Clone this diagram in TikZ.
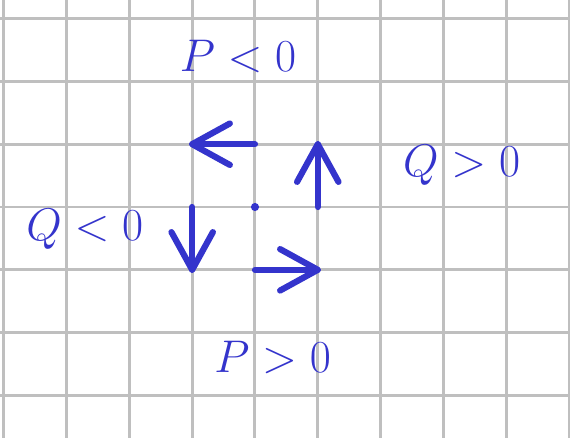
\documentclass[tikz,border=0pt]{standalone}
\begin{document}
\begin{tikzpicture}[x=1cm,y=1cm,
  gridline/.style={draw=gray!50, line width=1.35pt},
  vec/.style={draw=bluec, line width=2.8pt, line cap=round, line join=round},
  lab/.style={text=bluec, anchor=base, inner sep=0pt, font=\fontsize{20}{24}\selectfont}]
\definecolor{bluec}{HTML}{3434CC}
\useasboundingbox (-4.06,-3.678) rectangle (5.016,3.296);
\fill[white] (-4.06,-3.678) rectangle (5.016,3.296);
\foreach \x in {-4,...,5} \draw[gridline] (\x,-3.8) -- (\x,3.4);
\foreach \y in {-3,...,3} \draw[gridline] (-4.2,\y) -- (5.2,\y);
% dot
\node[circle, fill=bluec, inner sep=0pt, minimum size=0.13cm] (o) at (0,0) {};
% arrows
\coordinate (a1) at (0,1); \coordinate (t1) at (-1,1);
\coordinate (a2) at (1,0); \coordinate (t2) at (1,1);
\coordinate (a3) at (-1,0); \coordinate (t3) at (-1,-1);
\coordinate (a4) at (0,-1); \coordinate (t4) at (1,-1);
\draw[vec] (a1) -- (t1);
\draw[vec] (t1) ++(0.6,0.33) -- (t1) -- ++(0.6,-0.33);
\draw[vec] (a2) -- (t2);
\draw[vec] (t2) ++(-0.33,-0.6) -- (t2) -- ++(0.33,-0.6);
\draw[vec] (a3) -- (t3);
\draw[vec] (t3) ++(-0.33,0.6) -- (t3) -- ++(0.33,0.6);
\draw[vec] (a4) -- (t4);
\draw[vec] (t4) ++(-0.6,0.33) -- (t4) -- ++(-0.6,-0.33);
% labels
\node[lab] (l1) at (-0.27,2.15) {$P<0$};
\node[lab] (l2) at (3.29,0.48) {$Q>0$};
\node[lab] (l3) at (-2.71,-0.54) {$Q<0$};
\node[lab] (l4) at (0.28,-2.64) {$P>0$};
\end{tikzpicture}
\end{document}
